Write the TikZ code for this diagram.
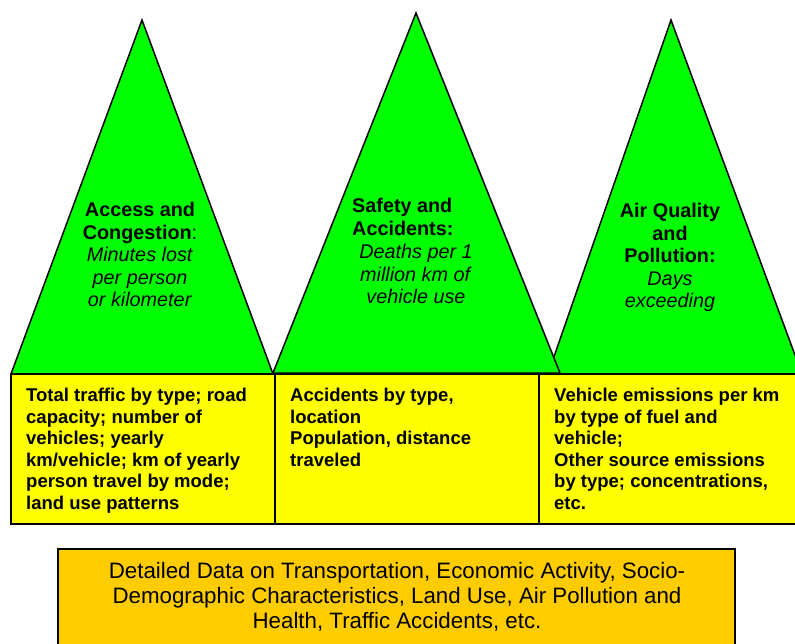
\documentclass[tikz,border=0pt]{standalone}
\usepackage{fontspec}
\setmainfont{Liberation Sans}
\definecolor{peakgreen}{HTML}{00FF00}
\definecolor{datayellow}{HTML}{FFFF00}
\definecolor{baseorange}{HTML}{FFCC00}
\begin{document}
\begin{tikzpicture}[x=1pt,y=-1pt,
  peak/.style={fill=peakgreen,draw=black,line width=1.5pt,line join=miter},
  databox/.style={fill=datayellow,draw=black,line width=1.5pt},
  basebox/.style={fill=baseorange,draw=black,line width=1.5pt},
  peaktext/.style={inner sep=0pt,align=center,font=\fontsize{19.8}{22.6}\selectfont},
  boxtext/.style={inner sep=0pt,align=left,anchor=north west,font=\fontsize{18.5}{21.5}\selectfont\bfseries},
  basetext/.style={inner sep=0pt,align=center,anchor=north,font=\fontsize{22.3}{25}\selectfont}
]
\useasboundingbox (0,0) rectangle (795,643);
\fill[white] (0,0) rectangle (795,643);

% corner points of the three indicator peaks
\coordinate (apexC) at (671,20);
\coordinate (leftC) at (548,374);
\coordinate (rightC) at (802,374);
\coordinate (apexA) at (142,20);
\coordinate (leftA) at (11,374);
\coordinate (rightA) at (273,374);
\coordinate (apexB) at (416,13);
\coordinate (leftB) at (273,373);
\coordinate (rightB) at (560,373);

% peaks: the air quality peak sits behind the safety peak
\draw[peak] (apexC) -- (leftC) -- (rightC) -- cycle;
\draw[peak] (apexA) -- (leftA) -- (rightA) -- cycle;
\draw[peak] (apexB) -- (leftB) -- (rightB) -- cycle;

% data boxes under the peaks
\draw[databox] (11,374) rectangle (275,524);
\draw[databox] (275,374) rectangle (539,524);
\draw[databox] (539,374) rectangle (802,524);

% foundation box
\draw[basebox] (58,549) rectangle (735,650);

% peak labels
\node[peaktext,anchor=north] (peakA) at (140,202)
  {\textbf{Access and}\\\textbf{Congestion}:\\\textit{Minutes lost}\\\textit{per person}\\\textit{or kilometer}};
\node[peaktext,anchor=north west,align=left] (peakBtitle) at (352,198)
  {\textbf{Safety and}\\\textbf{Accidents:}};
\node[peaktext,anchor=north] (peakBbody) at (416,244)
  {\textit{Deaths per 1}\\\textit{million km of}\\\textit{vehicle use}};
\node[peaktext,anchor=north] (peakC) at (670,203)
  {\textbf{Air Quality}\\\textbf{and}\\\textbf{Pollution:}\\\textit{Days}\\\textit{exceeding}};

% data box texts
\node[boxtext] (dataA) at (26,388)
  {Total traffic by type; road\\capacity; number of\\vehicles; yearly\\km/vehicle; km of yearly\\person travel by mode;\\land use patterns};
\node[boxtext] (dataB) at (290,388)
  {Accidents by type,\\location\\Population, distance\\traveled};
\node[boxtext] (dataC) at (554,388)
  {Vehicle emissions per km\\by type of fuel and\\vehicle;\\Other source emissions\\by type; concentrations,\\etc.};

% foundation text
\node[basetext] (found) at (397,562)
  {Detailed Data on Transportation, Economic Activity, Socio-\\Demographic Characteristics, Land Use, Air Pollution and\\Health, Traffic Accidents, etc.};
\end{tikzpicture}
\end{document}
